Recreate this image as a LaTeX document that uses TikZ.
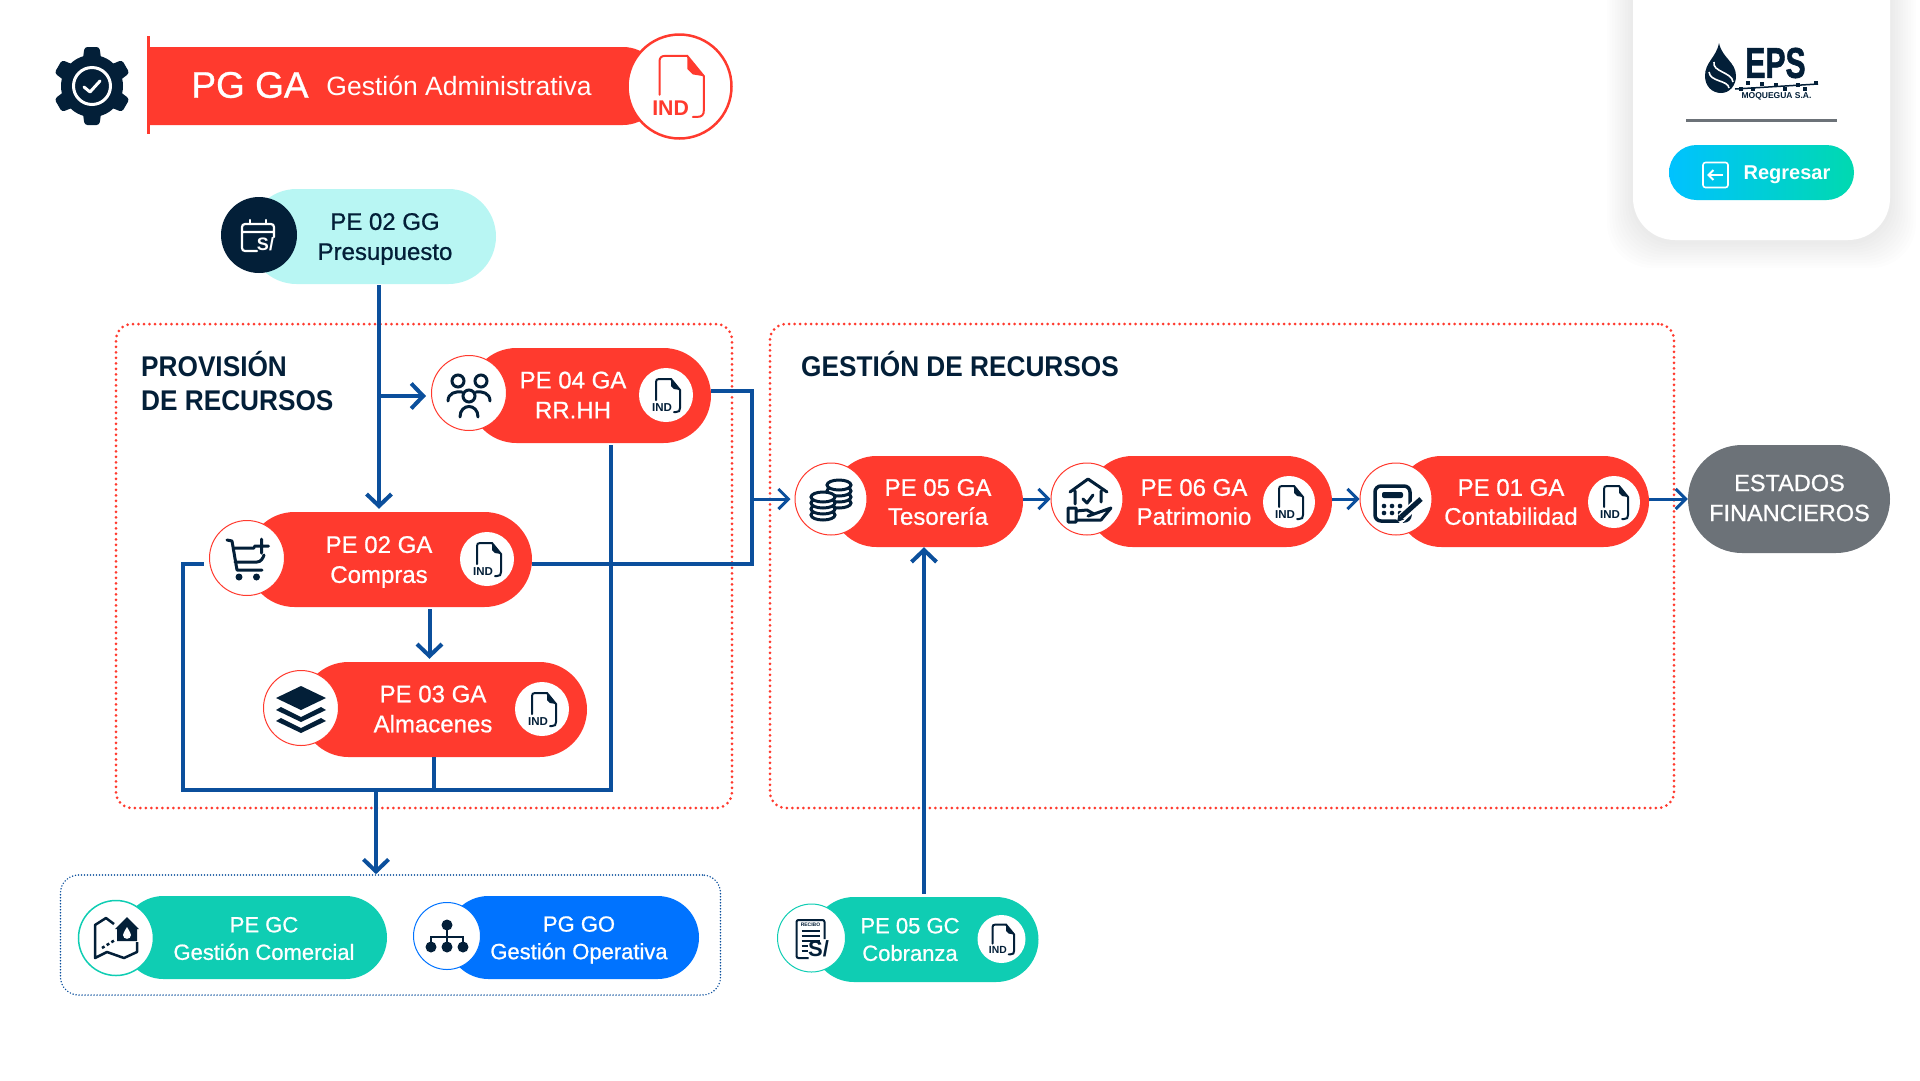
\documentclass[tikz,border=0pt]{standalone}
\usepackage{fontspec}
\setmainfont{Liberation Sans}
\newfontfamily\medfont[FakeBold=0.8]{Liberation Sans}
\newfontfamily\heavyfont[FakeBold=1.5]{Liberation Sans Bold}
\usetikzlibrary{arrows.meta,shapes.misc}
\definecolor{pilred}{HTML}{FF3A2E}
\definecolor{navy}{HTML}{031F38}
\definecolor{flowblue}{HTML}{0B4F9C}
\definecolor{pilteal}{HTML}{0FCDB3}
\definecolor{pilblue}{HTML}{0073FF}
\definecolor{pilcyan}{HTML}{B8F6F3}
\definecolor{pilgray}{HTML}{6C7278}
\definecolor{btnleft}{HTML}{00C2FF}
\definecolor{btnright}{HTML}{00D9B0}
\begin{document}
\begin{tikzpicture}[
      x=1pt, y=-1pt,
      pill/.style={rounded rectangle, minimum height=95pt, inner sep=0pt},
      redpill/.style={pill, fill=pilred},
      chainpill/.style={redpill, minimum height=91pt},
      tealpill/.style={pill, fill=pilteal, minimum height=83pt},
      pilltext/.style={font=\fontsize{24}{30}\medfont, align=center, text=white, inner sep=0pt},
      chaintext/.style={pilltext, font=\fontsize{24}{29}\medfont},
      smalltext/.style={font=\fontsize{22}{27.5}\medfont, align=center, text=white, inner sep=0pt},
      headtext/.style={font=\fontsize{28.5}{34.5}\selectfont\bfseries, xscale=.92, transform shape, align=left, text=navy, inner sep=0pt, anchor=west},
      iconcircle/.style={circle, fill=white, draw=pilred, line width=1pt, minimum size=75pt, inner sep=0pt},
      indcircle/.style={circle, fill=white, minimum size=54pt, inner sep=0pt},
      redbox/.style={draw=pilred, line width=3pt, line cap=round, dash pattern=on 0pt off 5.5pt, rounded corners=16pt, minimum height=484pt, inner sep=0pt},
      flow/.style={draw=flowblue, line width=4pt},
      flowarrow/.style={flow, -{Straight Barb[length=12pt, width=25pt]}},
      chainarrow/.style={flow, line width=3pt, -{Straight Barb[length=10pt, width=20pt]}},
      pics/indfile/.style={code={
        \draw[#1, line width=2pt, line cap=round] (-10,5) -- (-10,-13) .. controls (-10,-15) and (-9,-16) .. (-7,-16) -- (5,-16) -- (14,-5) -- (14,13) .. controls (14,16) and (13,17) .. (10,17) -- (8,17);
        \fill[#1] (5,-16) -- (14,-5) -- (8,-6) -- (5,-9) -- cycle;
        \node[text=#1, font=\fontsize{11.5}{12}\selectfont\bfseries, inner sep=0pt] at (-4,12.5) {IND};
      }},
      pics/indfile/.default=navy,
      pics/people/.style={code={
        \draw[navy, line width=3pt, line cap=round]
          (-11,-12) circle (6pt) (12,-12) circle (6pt) (0,3) circle (6pt)
          (-9,24) .. controls (-9,10) and (9,10) .. (9,24)
          (-21,8) .. controls (-21,0) and (-13,-2) .. (-7,-1)
          (21,8) .. controls (21,0) and (13,-2) .. (7,-1);
      }},
      pics/cart/.style={code={
        \draw[navy, line width=3pt, line join=round, line cap=round]
          (-20,-18) -- (-15,-17) -- (-10,12) -- (15,12)
          (-14,-10) -- (7,-10)
          (-12,4) -- (10,4) .. controls (14,4) and (16,0) .. (17,-3)
          (14.5,-19) -- (14.5,-5) (7.5,-12) -- (21.5,-12);
        \fill[navy] (-8,19) circle (3.5pt) (9.5,19) circle (3.5pt);
      }},
      pics/layers/.style={code={
        \fill[navy] (0,-22) -- (25,-10) -- (0,2) -- (-25,-10) -- cycle;
        \fill[navy] (-25,2) -- (-20,-1) -- (0,9) -- (20,-1) -- (25,2) -- (0,14) -- cycle;
        \fill[navy] (-25,13) -- (-20,10) -- (0,20) -- (20,10) -- (25,13) -- (0,25) -- cycle;
      }},
      pics/coins/.style={code={
        \foreach \yy in {4,-2,-8,-14}
          \draw[navy, line width=3pt, fill=white] (8,\yy) ellipse [x radius=12pt, y radius=5pt];
        \foreach \yy in {16,10,4,-2}
          \draw[navy, line width=3pt, fill=white] (-8,\yy) ellipse [x radius=12pt, y radius=5pt];
      }},
      pics/househand/.style={code={
        \draw[navy, line width=3pt, line join=round, line cap=round]
          (-17,-7) -- (1,-20) -- (20,-7)
          (-12,-8) -- (-12,5) (14,-8) -- (14,3)
          (-4,0) -- (0,4) -- (6,-4)
          (-19,9) -- (-11,9) -- (-11,23) -- (-19,23) -- cycle
          (-11,12) -- (0,11) -- (7,15) -- (1,17)
          (7,15) -- (24,9) -- (14,21) -- (-11,21);
      }},
      pics/calcpen/.style={code={
        \draw[navy, line width=3.5pt, rounded corners=6pt, fill=white] (-21,-13) rectangle (14,22);
        \fill[navy, rounded corners=2pt] (-14,-7) rectangle (7,-1);
        \foreach \xx in {-12,-4,4}
          \fill[navy] (\xx,7) circle (2.3pt) (\xx,14) circle (2.3pt);
        \draw[white, line width=9pt] (2,22) -- (25,0);
        \draw[navy, line width=5pt] (5,18) -- (25,0);
        \fill[navy] (1,23) -- (2.5,15.5) -- (8,20.5) -- cycle;
      }},
      pics/calendarsol/.style={code={
        \draw[white, line width=2.2pt, line cap=round, rounded corners=3pt]
          (-2,16) -- (-17,16) -- (-17,-11) -- (15,-11) -- (15,2)
          (-17,-3) -- (15,-3);
        \draw[white, line width=2.2pt, line cap=round] (-9,-15) -- (-9,-11) (7,-15) -- (7,-11);
        \node[text=white, font=\fontsize{18}{18}\selectfont\bfseries, inner sep=0pt] at (6.5,9) {S/};
      }},
      pics/mapland/.style={code={
        \draw[navy, line width=2.5pt, line join=round]
          (-2,-14) -- (-10,-20) -- (-21,-13) -- (-21,20) -- (-9,14) -- (8,20) -- (21,14) -- (21,4);
        \draw[navy, line width=2.5pt, dash pattern=on 3pt off 2.5pt] (-14,10) -- (-1,2);
        \fill[navy] (-1,-9) -- (11,-21) -- (23,-9) -- (21,-9) -- (21,3) -- (1,3) -- (1,-9) -- cycle;
        \fill[white] (11,-11) .. controls (8,-6) and (7,-4) .. (7,-3) .. controls (7,2) and (15,2) .. (15,-3) .. controls (15,-4) and (14,-6) .. (11,-11) -- cycle;
      }},
      pics/orgchart/.style={code={
        \fill[navy] (0,-11) circle (5.5pt) (-16,11) circle (5.5pt) (0,11) circle (5.5pt) (16,11) circle (5.5pt);
        \draw[navy, line width=2pt] (0,-6) -- (0,6) (-16,6) -- (-16,1) -- (16,1) -- (16,6);
      }},
      pics/recibo/.style={code={
        \draw[navy, line width=2pt, rounded corners=2pt] (-3,20) -- (-15,20) -- (-15,-18) -- (13,-18) -- (13,1);
        \node[text=navy, font=\fontsize{5}{5}\selectfont\bfseries, inner sep=0pt] at (-1,-13) {RECIBO};
        \draw[navy, line width=2pt] (-10,-7) -- (8,-7) (-10,-2) -- (8,-2) (-10,3) -- (8,3) (-10,8) -- (-4,8) (-10,13) -- (-4,13);
        \node[text=navy, font=\fontsize{22}{22}\selectfont\bfseries, inner sep=0pt] at (7,11) {S/};
      }},
    ]
      \useasboundingbox (0,0) rectangle (1920,1080);

      % card top right
      \foreach \i in {1,...,10}
        \fill[black, opacity=0.006, rounded corners=45pt] (1633-2.6*\i,-50) rectangle (1890+2.6*\i,242+2.6*\i);
      \node[fill=white, rounded corners=42pt, minimum width=257pt, minimum height=290pt, inner sep=0pt] (card) at (1761.5,95) {};
      \fill[navy] (1719,43) .. controls (1716,58) and (1705,62) .. (1705,76) .. controls (1705,86) and (1712,93) .. (1721,93) .. controls (1730,93) and (1736,85) .. (1736,76) .. controls (1736,62) and (1722,58) .. (1719,43) -- cycle;
      \draw[white, line width=1.6pt] (1714,62) .. controls (1712,72) and (1732,72) .. (1733,82) (1709,72) .. controls (1710,82) and (1728,80) .. (1729,88);
      \node[text=navy, font=\fontsize{43}{43}\heavyfont, xscale=.7, transform shape, inner sep=0pt] (epslogo) at (1775.5,63) {EPS};
      \draw[navy, line width=1.5pt] (1735,89) -- (1818,84);
      \foreach \xx/\yy in {1741/89,1748/83,1753/89,1762/84,1776/85,1785/89,1798/85,1805/89,1816/83}
        \fill[navy] (\xx-2,\yy-2) rectangle (\xx+2,\yy+2);
      \node[text=navy, font=\fontsize{8.5}{9}\selectfont\bfseries, inner sep=0pt] (epsname) at (1776.5,96) {MOQUEGUA S.A.};
      \draw[pilgray, line width=3pt] (1686,120) -- (1837,120);
      \node[rounded rectangle, left color=btnleft, right color=btnright, minimum width=185pt, minimum height=55pt, inner sep=0pt] (regresar) at (1761.5,172.5) {};
      \node[draw=white, line width=1.6pt, rounded corners=2.5pt, minimum size=25pt, inner sep=0pt] (backicon) at (1715.5,175) {};
      \draw[white, line width=1.8pt, -{Straight Barb[length=5pt, width=10pt]}] ([xshift=-6pt]backicon.east) -- ([xshift=5pt]backicon.west);
      \node[text=white, font=\fontsize{20}{24}\selectfont\bfseries, inner sep=0pt] (regresartext) at (1787,175) {Regresar};

      % header
      \fill[navy] (92,86) circle (31pt);
      \foreach \a in {30,90,150,210,270,330}
        \fill[navy, rounded corners=3pt, rotate around={\a:(92,86)}] (92+20,86-10) -- (92+39,86-7.5) -- (92+39,86+7.5) -- (92+20,86+10) -- cycle;
      \draw[white, line width=3pt] (92,86) circle (18.5pt);
      \draw[white, line width=3pt, line cap=round, line join=round] (84,87) -- (90,92) -- (100,81);
      \node[rounded rectangle, rounded rectangle west arc=none, fill=pilred, minimum width=514pt, minimum height=78pt, inner sep=0pt] (headbar) at (405,86) {};
      \draw[pilred, line width=3pt] (148,36) -- (148,134);
      \node[text=white, font=\fontsize{37}{40}\medfont, inner sep=0pt] (headcode) at (250,85) {PG GA};
      \node[text=white, font=\fontsize{26.5}{30}\selectfont, inner sep=0pt] (headname) at (459,86) {Gestión Administrativa};
      \node[circle, fill=white, draw=pilred, line width=2.5pt, minimum size=104pt, inner sep=0pt] (headind) at (679.5,86.5) {};
      \pic[scale=1.85, transform shape] at (678,85.5) {indfile=pilred};

      % boxes
      \node[redbox, minimum width=616pt] (provbox) at (424,566) {};
      \node[redbox, minimum width=904pt] (gestbox) at (1222,566) {};
      \node[draw=flowblue, line width=1.6pt, line cap=round, dash pattern=on 0pt off 3pt, rounded corners=18pt, minimum width=660pt, minimum height=120pt, inner sep=0pt] (gobox) at (390.5,935) {};
      \node[headtext] (provtitle) at (141,381) {PROVISIÓN\\DE RECURSOS};
      \node[headtext] (gesttitle) at (801,364) {GESTIÓN DE RECURSOS};

      % presupuesto
      \node[pill, fill=pilcyan, minimum width=247pt] (presup) at (372.5,236.5) {};
      \node[pilltext, text=navy] (presuptext) at (385,239) {PE 02 GG\\Presupuesto};
      \node[circle, fill=navy, minimum size=76pt, inner sep=0pt] (presupicon) at (259,235) {};
      \pic at (presupicon) {calendarsol};

      % provision
      \node[redpill, minimum width=242pt] (rrhh) at (590,395.5) {};
      \node[pilltext] (rrhhtext) at (573,395) {PE 04 GA\\RR.HH};
      \node[iconcircle] (rrhhicon) at (469,393) {};
      \node[indcircle] (rrhhind) at (666,395) {};
      \pic at (rrhhind) {indfile};
      \pic at (rrhhicon) {people};

      \node[redpill, minimum width=285pt] (compras) at (389.5,559.5) {};
      \node[pilltext] (comprastext) at (379,562) {PE 02 GA\\Compras};
      \node[iconcircle] (comprasicon) at (247,558) {};
      \node[indcircle] (comprasind) at (487,559) {};
      \pic at (comprasind) {indfile};
      \pic at (comprasicon) {cart};

      \node[redpill, minimum width=286pt] (almacen) at (444,709.5) {};
      \node[pilltext] (almacentext) at (433,709) {PE 03 GA\\Almacenes};
      \node[iconcircle] (almacenicon) at (301,708) {};
      \node[indcircle] (almacenind) at (542,709) {};
      \pic at (almacenind) {indfile};
      \pic at (almacenicon) {layers};

      % gestion
      \node[chainpill, minimum width=192pt] (tesoreria) at (927,501.5) {};
      \node[chaintext] (tesoreriatext) at (938,502) {PE 05 GA\\Tesorería};
      \node[iconcircle, minimum size=72pt] (tesoreriaicon) at (831,499) {};
      \pic at (tesoreriaicon) {coins};

      \node[chainpill, minimum width=245pt] (patrimonio) at (1209.5,501.5) {};
      \node[chaintext] (patrimoniotext) at (1194,502) {PE 06 GA\\Patrimonio};
      \node[iconcircle, minimum size=72pt] (patrimonioicon) at (1087,499) {};
      \node[indcircle, minimum size=52pt] (patrimonioind) at (1289,502) {};
      \pic at (patrimonioind) {indfile};
      \pic at (patrimonioicon) {househand};

      \node[chainpill, minimum width=253pt] (contab) at (1522.5,501.5) {};
      \node[chaintext] (contabtext) at (1511,502) {PE 01 GA\\Contabilidad};
      \node[iconcircle, minimum size=72pt] (contabicon) at (1396,499) {};
      \node[indcircle, minimum size=52pt] (contabind) at (1614,502) {};
      \pic at (contabind) {indfile};
      \pic at (contabicon) {calcpen};

      \node[pill, fill=pilgray, minimum width=202pt, minimum height=108pt] (estados) at (1789,499) {};
      \node[pilltext, font=\fontsize{23.5}{30}\medfont] (estadostext) at (1789.5,498) {ESTADOS\\FINANCIEROS};

      % bottom
      \node[tealpill, minimum width=265pt] (comercial) at (254.5,937.5) {};
      \node[smalltext] (comercialtext) at (264,938.5) {PE GC\\Gestión Comercial};
      \node[iconcircle, draw=pilteal, line width=1.5pt] (comercialicon) at (116,938) {};
      \pic at (comercialicon) {mapland};

      \node[pill, fill=pilblue, minimum height=83pt, minimum width=252pt] (operativa) at (573,937.5) {};
      \node[smalltext] (operativatext) at (579,940) {PG GO\\Gestión Operativa};
      \node[iconcircle, draw=pilblue, minimum size=67pt] (operativaicon) at (447,936) {};
      \pic at (operativaicon) {orgchart};

      \node[tealpill, minimum width=227pt, minimum height=85pt] (cobranza) at (925,939.5) {};
      \node[smalltext] (cobranzatext) at (910,939.5) {PE 05 GC\\Cobranza};
      \node[iconcircle, draw=pilteal, minimum size=68pt] (cobranzaicon) at (811.5,938) {};
      \node[indcircle, minimum size=48pt] (cobranzaind) at (1001.5,939) {};
      \pic[scale=.9, transform shape] at (cobranzaind) {indfile};
      \pic at (cobranzaicon) {recibo};

      % connectors
      \coordinate (trunk) at (379,285);
      \coordinate (busleft) at (183,790);
      \coordinate (busright) at (611,790);
      \coordinate (bustap) at (434,790);
      \coordinate (busdown) at (376,790);
      \coordinate (rhs) at (752,564);
      \draw[flow] ([yshift=-6pt,xshift=-5.5pt]comprasicon.west) -| (busleft) -- (busright) -- ([yshift=-2pt]busright |- rrhh.south);
      \draw[flow] (bustap) -- (bustap |- almacen.south);
      \draw[flowarrow] (busdown) -- (busdown |- gobox.north);
      \draw[flow] ([yshift=4.5pt]rrhh.east) -| (rhs) -- ([yshift=-4.5pt]compras.east);
      \draw[flowarrow] (trunk) -- ([yshift=3pt]trunk |- compras.north);
      \draw[flowarrow] ([yshift=-3pt]trunk |- rrhhicon.west) -- ([xshift=-5pt,yshift=-3pt]rrhhicon.west);
      \draw[flowarrow] ([xshift=40pt,yshift=-2pt]compras.south) -- ([xshift=-14.5pt,yshift=3pt]almacen.north);
      \draw[chainarrow] (rhs |- tesoreriaicon.west) -- ([xshift=-4pt]tesoreriaicon.west);
      \draw[flowarrow] ([xshift=-1pt,yshift=3pt]cobranza.north) -- ([xshift=-3pt]tesoreria.south);
      \draw[chainarrow] (tesoreria.east |- tesoreriaicon.east) -- (patrimonioicon.west);
      \draw[chainarrow] (patrimonio.east |- patrimonioicon.east) -- (contabicon.west);
      \draw[chainarrow] (contab.east |- contabicon.east) -- (estados.west);
    \end{tikzpicture}
\end{document}
